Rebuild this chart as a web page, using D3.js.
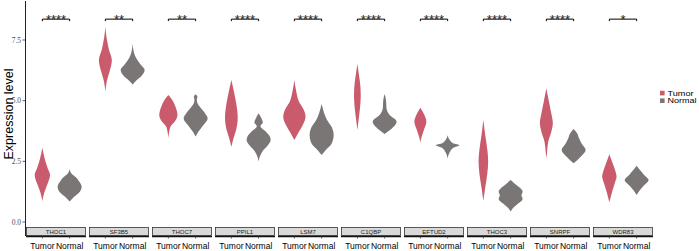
<!DOCTYPE html>
<html>
<head>
<meta charset="utf-8">
<script src="https://cdn.jsdelivr.net/npm/d3@7"></script>
<style>
  html, body { margin: 0; padding: 0; background: #fff; }
  svg { display: block; }
</style>
</head>
<body>
<svg id="chart" width="699" height="251"></svg>
<script>
// ---------------- DATA ----------------
const genes = ["THOC1", "SF3B5", "THOC7", "PPIL1", "LSM7", "C1QBP", "EFTUD2", "THOC3", "SNRPF", "WDR83"];
const groups = ["Tumor", "Normal"];
const significance = ["****", "**", "**", "****", "****", "****", "****", "****", "****", "*"];
const yTicks = [0, 2.5, 5, 7.5];
const bracketLevel = 8.36;

// Violin profiles: [expression value, relative density (1 = widest)]
const tumorProfiles = [
  [[3.06,0],[2.6,0.2],[2.2,0.45],[1.94,0.64],[1.6,0.45],[1.2,0.15],[0.87,0]],
  [[8.05,0],[7.6,0.1],[7.1,0.3],[6.67,0.54],[6.2,0.35],[5.8,0.12],[5.37,0]],
  [[5.23,0],[5.05,0.3],[4.8,0.55],[4.55,0.72],[4.41,0.76],[4.15,0.55],[3.95,0.2],[3.75,0.08],[3.45,0]],
  [[5.85,0],[5.4,0.2],[4.9,0.4],[4.3,0.53],[3.8,0.4],[3.4,0.15],[3.1,0]],
  [[5.85,0],[5.4,0.15],[5.0,0.35],[4.6,0.8],[4.34,0.93],[4.0,0.7],[3.7,0.35],[3.38,0]],
  [[6.51,0],[6.0,0.15],[5.6,0.25],[5.16,0.28],[4.6,0.2],[4.2,0.1],[3.79,0]],
  [[4.71,0],[4.45,0.3],[4.13,0.5],[3.8,0.3],[3.5,0.1],[3.28,0]],
  [[4.2,0],[3.6,0.15],[2.9,0.35],[2.49,0.4],[2.0,0.33],[1.4,0.15],[0.87,0]],
  [[5.51,0],[5.0,0.2],[4.5,0.4],[4.07,0.54],[3.7,0.4],[3.3,0.15],[2.9,0.06],[2.62,0]],
  [[2.79,0],[2.45,0.25],[2.1,0.5],[1.87,0.6],[1.6,0.45],[1.2,0.2],[0.81,0]]
];
const normalProfiles = [
  [[2.18,0],[2.0,0.15],[1.85,0.5],[1.7,0.75],[1.45,1.0],[1.25,0.85],[1.05,0.4],[0.84,0]],
  [[7.36,0],[7.0,0.1],[6.75,0.3],[6.5,0.65],[6.26,1.0],[6.0,0.7],[5.85,0.35],[5.67,0]],
  [[5.26,0],[5.15,0.15],[5.05,0.1],[4.95,0.12],[4.75,0.35],[4.5,0.75],[4.27,1.0],[4.0,0.65],[3.7,0.2],[3.52,0]],
  [[4.48,0],[4.25,0.25],[4.1,0.35],[3.95,0.15],[3.75,0.55],[3.55,0.9],[3.38,1.0],[3.15,0.75],[2.9,0.3],[2.7,0.1],[2.49,0]],
  [[4.86,0],[4.5,0.2],[4.2,0.45],[3.9,0.85],[3.58,1.0],[3.2,0.8],[3.0,0.4],[2.76,0]],
  [[5.27,0],[5.0,0.12],[4.7,0.15],[4.45,0.35],[4.13,1.0],[3.9,0.7],[3.63,0]],
  [[3.58,0],[3.4,0.15],[3.25,0.45],[3.17,1.0],[3.05,0.45],[2.85,0.15],[2.62,0]],
  [[1.73,0],[1.6,0.3],[1.4,0.8],[1.25,1.0],[1.1,0.9],[0.95,1.0],[0.75,0.6],[0.55,0.15],[0.43,0]],
  [[3.83,0],[3.65,0.3],[3.45,0.45],[3.25,0.65],[2.97,1.0],[2.7,0.6],[2.42,0]],
  [[2.32,0],[2.1,0.35],[1.95,0.6],[1.73,1.0],[1.5,0.6],[1.3,0.25],[1.11,0]]
];
const colors = { Tumor: "#c95b6c", Normal: "#7a7675" };

// ---------------- LAYOUT ----------------
const svg = d3.select("#chart");
const panelTop = 1, panelBottom = 227, stripBottom = 236;

const y = d3.scaleLinear().domain([0, 7.5]).range([222, 40]);
const fx = d3.scaleBand().domain(genes).range([26, 653]).paddingInner(0.0476).paddingOuter(0);
const px = d3.scalePoint().domain(groups).range([0, fx.bandwidth()]).padding(0.6);
const w = d3.scaleLinear().domain([0, 1]).range([0, 12]);

const area = d3.area()
  .y(d => y(d[0]))
  .x0(d => -w(d[1]))
  .x1(d => w(d[1]))
  .curve(d3.curveMonotoneY);

// y axis
const yAxisG = svg.append("g").attr("transform", "translate(25.5,0)");
yAxisG.append("line").attr("x1", 0).attr("x2", 0).attr("y1", panelTop).attr("y2", stripBottom)
  .attr("stroke", "#222").attr("stroke-width", 1);
yAxisG.selectAll(".yt").data(yTicks).join("g").attr("class", "yt")
  .attr("transform", d => `translate(0,${y(d)})`)
  .call(g => g.append("line").attr("x1", -3).attr("x2", 0).attr("stroke", "#333").attr("stroke-width", 0.8))
  .call(g => g.append("text").attr("x", -4.5).attr("dy", "0.35em").attr("text-anchor", "end")
    .attr("font-family", "Liberation Serif, Times New Roman, serif").attr("font-size", 7.5)
    .attr("fill", "#4d4d4d").text(d => d3.format(".1f")(d)));

svg.append("text")
  .attr("transform", `translate(13,${(panelTop + panelBottom) / 2}) rotate(-90)`)
  .attr("text-anchor", "middle")
  .attr("font-family", "Liberation Sans, Arial, sans-serif").attr("font-size", 12.5)
  .attr("fill", "#000").text("Expression level");

// panels
genes.forEach((gene, i) => {
  const g = svg.append("g").attr("transform", `translate(${fx(gene)},0)`);
  const bw = fx.bandwidth();

  // violins
  [["Tumor", tumorProfiles[i]], ["Normal", normalProfiles[i]]].forEach(([grp, prof]) => {
    g.append("path")
      .attr("transform", `translate(${px(grp)},0)`)
      .attr("d", area(prof))
      .attr("fill", colors[grp]);
  });

  // significance bracket
  const by = y(bracketLevel);
  const x1 = px("Tumor"), x2 = px("Normal");
  g.append("path")
    .attr("d", `M${x1},${by + 2}V${by}H${x2}V${by + 2}`)
    .attr("fill", "none").attr("stroke", "#000").attr("stroke-width", 1);
  g.append("text")
    .attr("x", (x1 + x2) / 2).attr("y", by + 5)
    .attr("text-anchor", "middle")
    .attr("font-family", "Liberation Sans, Arial, sans-serif").attr("font-size", 13)
    .attr("fill", "#222").text(significance[i]);

  // strip
  g.append("rect").attr("x", 0.5).attr("y", panelBottom + 0.5)
    .attr("width", bw - 1).attr("height", stripBottom - panelBottom - 1)
    .attr("fill", "#d9d9d9").attr("stroke", "#333").attr("stroke-width", 0.8);
  g.append("text").attr("x", bw / 2).attr("y", (panelBottom + stripBottom) / 2 + 0.3)
    .attr("dy", "0.35em").attr("text-anchor", "middle")
    .attr("font-family", "Liberation Sans, Arial, sans-serif").attr("font-size", 6)
    .attr("fill", "#1a1a1a").text(gene);

  // x axis
  g.append("line").attr("x1", 0).attr("x2", bw).attr("y1", stripBottom + 0.5).attr("y2", stripBottom + 0.5)
    .attr("stroke", "#111").attr("stroke-width", 1.4);
  groups.forEach(grp => {
    g.append("line").attr("x1", px(grp)).attr("x2", px(grp))
      .attr("y1", stripBottom).attr("y2", stripBottom + 2.5)
      .attr("stroke", "#333").attr("stroke-width", 0.8);
    g.append("text").attr("x", px(grp)).attr("y", 246).attr("dy", "0.35em")
      .attr("text-anchor", "middle")
      .attr("font-family", "Liberation Sans, Arial, sans-serif").attr("font-size", 8.5)
      .attr("fill", "#000").text(grp);
  });
});

// legend
const legend = svg.append("g").attr("transform", "translate(660,0)");
groups.forEach((grp, k) => {
  const cy = 93.2 + k * 7.6;
  legend.append("rect").attr("x", 0).attr("y", cy - 2.4).attr("width", 4.6).attr("height", 4.6)
    .attr("fill", colors[grp]);
  legend.append("text").attr("x", 7.5).attr("y", cy).attr("dy", "0.35em")
    .attr("font-family", "Liberation Sans, Arial, sans-serif").attr("font-size", 7.6)
    .attr("textLength", grp === "Tumor" ? 26 : 29).attr("lengthAdjust", "spacingAndGlyphs")
    .attr("fill", "#000").text(grp);
});
</script>
</body>
</html>
